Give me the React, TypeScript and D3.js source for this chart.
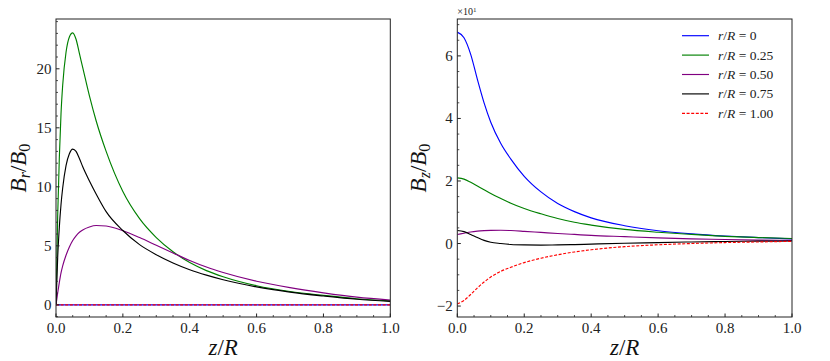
import React from 'react';
import * as d3 from 'd3';

// ---------- Data ----------
const zBr = [0, 0.005, 0.01, 0.015, 0.02, 0.03, 0.04, 0.05, 0.06, 0.07, 0.08, 0.1, 0.12, 0.15, 0.2, 0.25, 0.3, 0.35, 0.4, 0.45, 0.5, 0.6, 0.7, 0.8, 0.9, 1.0];
const brR000 = [0, 0, 0, 0, 0, 0, 0, 0, 0, 0, 0, 0, 0, 0, 0, 0, 0, 0, 0, 0, 0, 0, 0, 0, 0, 0];
const brR025 = [0, 7.5, 12.5, 16.2, 18.6, 21.4, 22.7, 23.05, 22.5, 21.3, 20.1, 17.7, 15.6, 13.0, 9.6, 7.3, 5.7, 4.5, 3.58, 2.9, 2.38, 1.62, 1.13, 0.8, 0.52, 0.34];
const brR050 = [0, 1.0, 1.9, 2.7, 3.3, 4.2, 4.9, 5.45, 5.85, 6.15, 6.35, 6.6, 6.72, 6.68, 6.28, 5.7, 5.05, 4.4, 3.76, 3.2, 2.74, 2.0, 1.46, 1.02, 0.65, 0.4];
const brR075 = [0, 4.0, 6.6, 8.5, 9.9, 11.8, 12.8, 13.2, 13.0, 12.4, 11.7, 10.5, 9.4, 7.9, 6.3, 5.1, 4.25, 3.55, 2.98, 2.52, 2.13, 1.52, 1.08, 0.75, 0.47, 0.3];
const brR100 = [0, 0, 0, 0, 0, 0, 0, 0, 0, 0, 0, 0, 0, 0, 0, 0, 0, 0, 0, 0, 0, 0, 0, 0, 0, 0];

const zBz = [0, 0.02, 0.04, 0.06, 0.08, 0.1, 0.13, 0.16, 0.2, 0.25, 0.3, 0.35, 0.4, 0.5, 0.6, 0.7, 0.8, 0.9, 1.0];
const bzR000 = [6.76, 6.58, 6.05, 5.25, 4.5, 3.88, 3.2, 2.7, 2.15, 1.65, 1.28, 1.02, 0.82, 0.57, 0.41, 0.31, 0.24, 0.19, 0.15];
const bzR025 = [2.10, 2.06, 1.96, 1.84, 1.72, 1.60, 1.44, 1.29, 1.12, 0.95, 0.80, 0.68, 0.59, 0.45, 0.36, 0.29, 0.23, 0.19, 0.16];
const bzR050 = [0.29, 0.33, 0.37, 0.395, 0.41, 0.42, 0.425, 0.415, 0.39, 0.355, 0.32, 0.29, 0.26, 0.22, 0.18, 0.15, 0.13, 0.11, 0.10];
const bzR075 = [0.415, 0.38, 0.29, 0.19, 0.10, 0.04, 0.0, -0.03, -0.045, -0.05, -0.045, -0.035, -0.02, 0.01, 0.03, 0.05, 0.065, 0.075, 0.08];
const bzR100 = [-1.93, -1.82, -1.63, -1.42, -1.23, -1.07, -0.89, -0.76, -0.61, -0.47, -0.36, -0.27, -0.2, -0.1, -0.04, 0.0, 0.03, 0.05, 0.07];

const legendLabels = ['0', '0.25', '0.50', '0.75', '1.00'];
const xTicks = [0, 0.2, 0.4, 0.6, 0.8, 1.0];
const brTicks = [0, 5, 10, 15, 20];
const bzTicks = [-2, 0, 2, 4, 6];

const colors = ['#0000ff', '#008000', '#800080', '#000000', '#ff0000'];
const dashes = [null, null, null, null, '3,1.6'];

const FONT = "'Liberation Serif', 'Noto Serif', 'Times New Roman'";
const TS = { fontFamily: FONT };

type Series = { z: number[]; v: number[]; color: string; dash: string | null };

function Panel(props: {
  x0: number; x1: number; y0: number; y1: number;
  yDomain: [number, number]; yTicks: number[]; yMinorStep: number;
  series: Series[]; yLabelSub: string; yLabelX: number;
  offsetLabel?: boolean; legend?: boolean;
}) {
  const { x0, x1, y0, y1, yDomain, yTicks, yMinorStep, series } = props;
  const xs = d3.scaleLinear().domain([0, 1]).range([x0, x1]);
  const ys = d3.scaleLinear().domain(yDomain).range([y1, y0]);
  const line = d3.line<[number, number]>()
    .x(d => xs(d[0]))
    .y(d => ys(d[1]))
    .curve(d3.curveMonotoneX);

  const xMinor = d3.range(0, 1.0001, 0.05).filter(v => !xTicks.some(t => Math.abs(t - v) < 1e-6));
  const yMinorAll = d3.range(Math.ceil(yDomain[0] / yMinorStep) * yMinorStep, yDomain[1] + 1e-9, yMinorStep);
  const yMinor = yMinorAll.filter(v => !yTicks.some(t => Math.abs(t - v) < 1e-6));
  const fmtY = (v: number) => (v < 0 ? '\u2212' + Math.abs(v) : String(v));
  const clipId = 'clip' + Math.round(x0);
  const cy = (y0 + y1) / 2;

  return (
    <g>
      <defs>
        <clipPath id={clipId}>
          <rect x={x0} y={y0} width={x1 - x0} height={y1 - y0} />
        </clipPath>
      </defs>
      <g clipPath={`url(#${clipId})`}>
        {series.map((s, i) => (
          <path key={i}
            d={line(s.z.map((z, k) => [z, s.v[k]] as [number, number])) || ''}
            fill="none" stroke={s.color} strokeWidth={1.15}
            strokeDasharray={s.dash || undefined} />
        ))}
      </g>
      <rect x={x0} y={y0} width={x1 - x0} height={y1 - y0} fill="none" stroke="#222" strokeWidth={1} />
      {xTicks.map(t => (
        <g key={'xt' + t}>
          <line x1={xs(t)} x2={xs(t)} y1={y1} y2={y1 - 3.5} stroke="#222" strokeWidth={1} />
          <text x={xs(t)} y={333} textAnchor="middle" style={TS} fontSize={15} fill="#222">{t.toFixed(1)}</text>
        </g>
      ))}
      {xMinor.map(t => (
        <line key={'xm' + t} x1={xs(t)} x2={xs(t)} y1={y1} y2={y1 - 2} stroke="#222" strokeWidth={0.8} />
      ))}
      {yTicks.map(t => (
        <g key={'yt' + t}>
          <line x1={x0} x2={x0 + 3.5} y1={ys(t)} y2={ys(t)} stroke="#222" strokeWidth={1} />
          <text x={x0 - 4.5} y={ys(t) + 5} textAnchor="end" style={TS} fontSize={15} fill="#222">{fmtY(t)}</text>
        </g>
      ))}
      {yMinor.map(t => (
        <line key={'ym' + t} x1={x0} x2={x0 + 2} y1={ys(t)} y2={ys(t)} stroke="#222" strokeWidth={0.8} />
      ))}
      <text x={(x0 + x1) / 2} y={355} textAnchor="middle" style={TS} fontSize={23} fill="#111">
        <tspan fontStyle="italic">z</tspan><tspan>/</tspan><tspan fontStyle="italic">R</tspan>
      </text>
      <text transform={`translate(${props.yLabelX},${cy}) rotate(-90)`} textAnchor="middle" style={TS} fontSize={23} fill="#111">
        <tspan fontStyle="italic">B</tspan>
        <tspan fontStyle="italic" fontSize={16} dy={4}>{props.yLabelSub}</tspan>
        <tspan dy={-4}>/</tspan>
        <tspan fontStyle="italic">B</tspan>
        <tspan fontSize={16} dy={4}>0</tspan>
      </text>
      {props.offsetLabel && (
        <text x={x0} y={15} style={TS} fontSize={10} fill="#222">
          ×10<tspan fontSize={7} dy={-3}>1</tspan>
        </text>
      )}
      {props.legend && (
        <g>
          {legendLabels.map((lab, i) => {
            const y = 35.7 + i * 19.4;
            return (
              <g key={'lg' + i}>
                <line x1={682} x2={709} y1={y} y2={y} stroke={colors[i]} strokeWidth={1.15}
                  strokeDasharray={dashes[i] || undefined} />
                <text x={718} y={y + 4.5} style={TS} fontSize={13.5} fill="#222">
                  <tspan fontStyle="italic">r</tspan>/<tspan fontStyle="italic">R</tspan> = {lab}
                </text>
              </g>
            );
          })}
        </g>
      )}
    </g>
  );
}

export default function App() {
  const brSeries: Series[] = [
    { z: zBr, v: brR000, color: colors[0], dash: dashes[0] },
    { z: zBr, v: brR025, color: colors[1], dash: dashes[1] },
    { z: zBr, v: brR050, color: colors[2], dash: dashes[2] },
    { z: zBr, v: brR075, color: colors[3], dash: dashes[3] },
    { z: zBr, v: brR100, color: colors[4], dash: dashes[4] },
  ];
  const bzSeries: Series[] = [
    { z: zBz, v: bzR000, color: colors[0], dash: dashes[0] },
    { z: zBz, v: bzR025, color: colors[1], dash: dashes[1] },
    { z: zBz, v: bzR050, color: colors[2], dash: dashes[2] },
    { z: zBz, v: bzR075, color: colors[3], dash: dashes[3] },
    { z: zBz, v: bzR100, color: colors[4], dash: dashes[4] },
  ];
  return (
    <svg width={830} height={361} style={{ position: 'absolute', left: 0, top: 0 }}>
      <rect x={0} y={0} width={830} height={361} fill="#fff" />
      <Panel x0={56} x1={390.3} y0={19} y1={317} yDomain={[-1.03, 24.22]} yTicks={brTicks} yMinorStep={1}
        series={brSeries} yLabelSub="r" yLabelX={26} />
      <Panel x0={457.3} x1={792} y0={19} y1={317} yDomain={[-2.35, 7.18]} yTicks={bzTicks} yMinorStep={0.5}
        series={bzSeries} yLabelSub="z" yLabelX={426} offsetLabel legend />
    </svg>
  );
}
